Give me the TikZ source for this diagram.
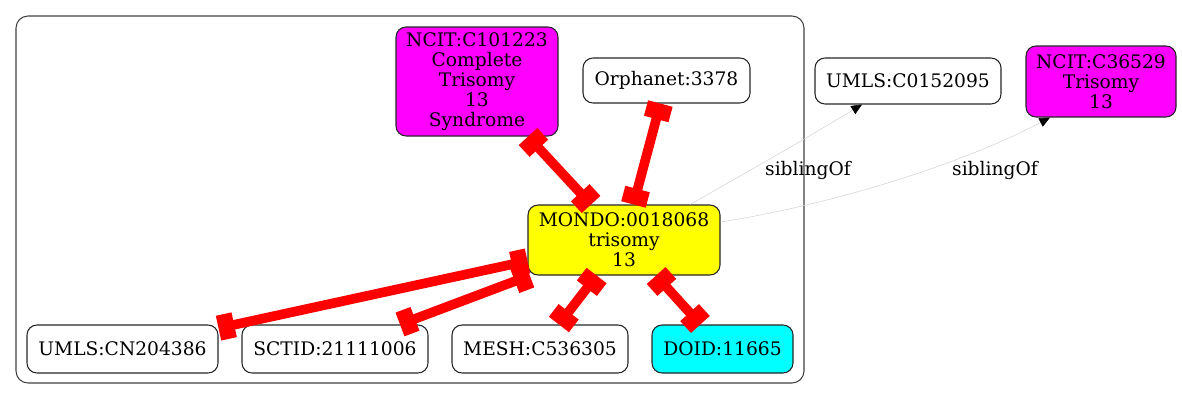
\documentclass[tikz,border=0pt]{standalone}
\usepackage{fontspec}
\setmainfont{DejaVu Serif}
\usetikzlibrary{arrows.meta}
\definecolor{edgegray}{HTML}{D3D3D3}
\definecolor{clustgray}{HTML}{404040}
\definecolor{gvmagenta}{HTML}{FF00FF}
\definecolor{gvcyan}{HTML}{00FFFF}
\definecolor{gvyellow}{HTML}{FFFF00}
\definecolor{gvred}{HTML}{FF0000}
\begin{document}
\begin{tikzpicture}[x=0.75pt,y=-0.75pt,
  every node/.style={font=\fontsize{14}{15}\selectfont},
  box/.style={draw=black!85, line width=0.8pt, rounded corners=7.5pt, align=center, inner sep=0pt},
  redge/.style={draw=gvred, line width=7.2pt,
    {Rectangle[length=12pt,width=19pt]}-{Rectangle[length=12pt,width=19pt]}},
  sedge/.style={draw=edgegray, line width=0.4pt, -{Triangle[length=8pt,width=7pt,color=black,fill=black]}},
  lbl/.style={inner sep=0pt}
]
\useasboundingbox (0,0) rectangle (1182,400);
\draw[clustgray, line width=0.8pt, rounded corners=9pt] (16,16) rectangle (804,383);

\node[box, fill=gvmagenta, minimum width=121.5pt, minimum height=81.75pt] (ncit1) at (477,81.5) {NCIT:C101223\\Complete\\Trisomy\\13\\Syndrome};
\node[box, minimum width=125.25pt, minimum height=33.75pt] (orph) at (666.5,80.5) {Orphanet:3378};
\node[box, fill=gvyellow, minimum width=144pt, minimum height=52.5pt] (mondo) at (624,240) {MONDO:0018068\\trisomy\\13};
\node[box, minimum width=143.25pt, minimum height=36pt] (umls1) at (122.5,349) {UMLS:CN204386};
\node[box, minimum width=139.5pt, minimum height=36pt] (sctid) at (335,349) {SCTID:21111006};
\node[box, minimum width=132pt, minimum height=36pt] (mesh) at (540,349) {MESH:C536305};
\node[box, fill=gvcyan, minimum width=105.75pt, minimum height=36pt] (doid) at (722.5,349) {DOID:11665};
\node[box, minimum width=139.5pt, minimum height=34.5pt] (umls2) at (908,81) {UMLS:C0152095};
\node[box, fill=gvmagenta, minimum width=112.5pt, minimum height=53.25pt] (ncit2) at (1101,81.5) {NCIT:C36529\\Trisomy\\13};

\draw[redge] (ncit1) -- (mondo);
\draw[redge] (orph) -- (mondo);
\draw[redge] (mondo) -- (umls1);
\draw[redge] (mondo) -- (sctid);
\draw[redge] (mondo) -- (mesh);
\draw[redge] (mondo) -- (doid);

\coordinate (s1a) at (690,205);
\coordinate (s1b) at (862,106);
\coordinate (s2a) at (720,222);
\coordinate (s2b) at (1050,117);
\draw[sedge] (mondo.north -| s1a) .. controls (760,165) and (820,130) .. (umls2.south -| s1b);
\draw[sedge] (mondo.east |- s2a) .. controls (830,205) and (960,165) .. (ncit2.south -| s2b);

\node[lbl] (l1) at (808,170) {siblingOf};
\node[lbl] (l2) at (995,170) {siblingOf};
\end{tikzpicture}
\end{document}
